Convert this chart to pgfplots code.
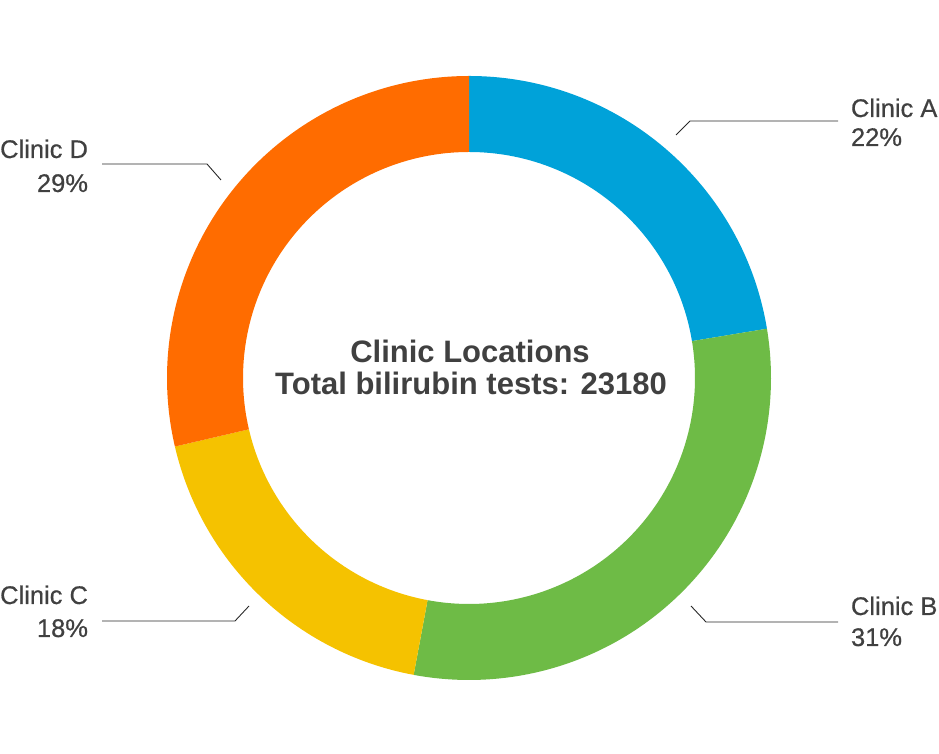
\documentclass[border=0pt]{standalone}
\usepackage{pgfplots}
\pgfplotsset{compat=1.18}
\usepackage{pgfplotstable}
\usepackage{fontspec}
\setmainfont{Liberation Sans}
\newfontfamily\medfont{Liberation Sans}[FakeBold=0.6]
\definecolor{cA}{RGB}{0,162,217}
\definecolor{cB}{RGB}{110,187,70}
\definecolor{cC}{RGB}{245,194,0}
\definecolor{cD}{RGB}{255,108,0}
\definecolor{txt}{RGB}{64,64,64}
\definecolor{lead}{RGB}{40,40,40}

\pgfplotstableread{
name value
A 5190
B 7080
C 4270
D 6640
}\datatable

\newcommand\slice[3]{%
  \fill[#3] ([shift={(#1:302pt)}]axis cs:469,376) arc[start angle=#1,end angle=#2,radius=302pt]
    -- ([shift={(#2:226pt)}]axis cs:469,376) arc[start angle=#2,end angle=#1,radius=226pt] -- cycle;}

\begin{document}
\begin{tikzpicture}
\pgfplotstablegetelem{0}{value}\of\datatable \let\vA\pgfplotsretval
\pgfplotstablegetelem{1}{value}\of\datatable \let\vB\pgfplotsretval
\pgfplotstablegetelem{2}{value}\of\datatable \let\vC\pgfplotsretval
\pgfplotstablegetelem{3}{value}\of\datatable \let\vD\pgfplotsretval
\pgfmathsetmacro\tot{\vA/1000+\vB/1000+\vC/1000+\vD/1000}
\pgfmathsetmacro\aA{90}
\pgfmathsetmacro\aB{\aA-0.36*\vA/\tot}
\pgfmathsetmacro\aC{\aB-0.36*\vB/\tot}
\pgfmathsetmacro\aD{\aC-0.36*\vC/\tot}
\pgfmathsetmacro\aE{\aD-0.36*\vD/\tot}
\begin{axis}[
  x=1pt, y=1pt, xmin=0, xmax=939, ymin=0, ymax=754,
  hide axis, clip=false, anchor=origin, at={(0,0)},
]
\addplot[draw=none, forget plot] coordinates {(0,0) (939,754)};
\slice{\aA}{\aB}{cA}
\slice{\aB}{\aC}{cB}
\slice{\aC}{\aD}{cC}
\slice{\aD}{\aE}{cD}

% leader lines
\draw[lead, line width=0.9pt] (axis cs:676,619) -- (axis cs:690,633) -- (axis cs:838,633);
\draw[lead, line width=0.9pt] (axis cs:221,574) -- (axis cs:207,590) -- (axis cs:102,590);
\draw[lead, line width=0.9pt] (axis cs:249,148) -- (axis cs:235,133) -- (axis cs:102,133);
\draw[lead, line width=0.9pt] (axis cs:691,148) -- (axis cs:706,132) -- (axis cs:838,132);

% labels
\begin{scope}[every node/.style={inner sep=0pt, outer sep=0pt, text=txt, font=\fontsize{25.5}{30}\selectfont\medfont}]
\node[anchor=base west] at (axis cs:851,637) {Clinic A};
\node[anchor=base west] at (axis cs:851,608) {22\%};
\node[anchor=base west] at (axis cs:851,139) {Clinic B};
\node[anchor=base west] at (axis cs:851,108) {31\%};
\node[anchor=base east] at (axis cs:88,596) {Clinic D};
\node[anchor=base east] at (axis cs:88,562) {29\%};
\node[anchor=base east] at (axis cs:88,150) {Clinic C};
\node[anchor=base east] at (axis cs:88,117) {18\%};
\end{scope}

\node[anchor=base, inner sep=0pt, text=txt, font=\fontsize{31}{36}\selectfont\bfseries] at (axis cs:470,391) {Clinic Locations};
\node[anchor=base, inner sep=0pt, text=txt, font=\fontsize{31}{36}\selectfont\bfseries] at (axis cs:471,359) {Total bilirubin tests: 23180};
\end{axis}
\pgfresetboundingbox
\useasboundingbox (0,0) rectangle (939pt,754pt);
\end{tikzpicture}
\end{document}
